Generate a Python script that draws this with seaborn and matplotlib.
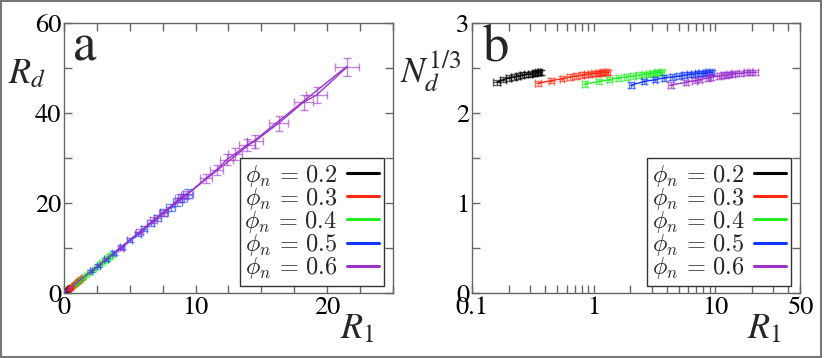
import numpy as np
import matplotlib
matplotlib.use("Agg")
import matplotlib.pyplot as plt
import seaborn as sns
from matplotlib.patches import Rectangle
from matplotlib.lines import Line2D
from matplotlib.ticker import MultipleLocator, LogLocator, FixedLocator, FixedFormatter, NullFormatter

# ---- data ----
phi_labels = ["0.2", "0.3", "0.4", "0.5", "0.6"]
colors = ["#000000", "#ff2a10", "#22ee22", "#1038ff", "#9933cc"]

r1_02 = [0.16, 0.18, 0.20, 0.22, 0.24, 0.26, 0.28, 0.30, 0.32, 0.33, 0.34, 0.35, 0.36, 0.37]
rd_02 = [0.37, 0.43, 0.48, 0.53, 0.58, 0.63, 0.68, 0.73, 0.78, 0.80, 0.83, 0.85, 0.88, 0.90]
n13_02 = [2.34, 2.37, 2.39, 2.40, 2.41, 2.42, 2.43, 2.43, 2.44, 2.44, 2.45, 2.45, 2.45, 2.45]
r1err_02 = [0.010] * 14
rderr_02 = [0.05] * 14

r1_03 = [0.35, 0.45, 0.55, 0.64, 0.72, 0.80, 0.87, 0.94, 1.00, 1.06, 1.12, 1.17, 1.22, 1.27, 1.32]
rd_03 = [0.82, 1.06, 1.31, 1.53, 1.73, 1.93, 2.11, 2.28, 2.44, 2.59, 2.73, 2.86, 2.99, 3.11, 3.23]
n13_03 = [2.33, 2.36, 2.38, 2.40, 2.41, 2.42, 2.43, 2.43, 2.44, 2.44, 2.44, 2.45, 2.45, 2.45, 2.45]
r1err_03 = [0.02, 0.02, 0.02, 0.03, 0.03, 0.03, 0.03, 0.04, 0.04, 0.04, 0.04, 0.05, 0.05, 0.05, 0.05]
rderr_03 = [0.06, 0.07, 0.08, 0.09, 0.10, 0.10, 0.11, 0.12, 0.12, 0.13, 0.13, 0.14, 0.14, 0.15, 0.15]

r1_04 = [0.85, 1.10, 1.35, 1.60, 1.85, 2.10, 2.35, 2.60, 2.80, 3.00, 3.20, 3.35, 3.50, 3.65]
rd_04 = [1.98, 2.58, 3.17, 3.76, 4.35, 4.94, 5.52, 6.11, 6.58, 7.05, 7.52, 7.87, 8.23, 8.58]
n13_04 = [2.32, 2.35, 2.37, 2.39, 2.40, 2.41, 2.42, 2.43, 2.43, 2.44, 2.44, 2.45, 2.45, 2.45]
r1err_04 = [0.04, 0.05, 0.06, 0.07, 0.08, 0.09, 0.10, 0.11, 0.12, 0.12, 0.13, 0.14, 0.14, 0.15]
rderr_04 = [0.10, 0.13, 0.15, 0.18, 0.20, 0.23, 0.25, 0.28, 0.30, 0.31, 0.33, 0.34, 0.36, 0.37]

r1_05 = [2.05, 2.6, 3.2, 3.8, 4.4, 5.0, 5.6, 6.1, 6.6, 7.1, 7.6, 8.1, 8.6, 9.0, 9.4]
rd_05 = [4.8, 6.1, 7.5, 8.9, 10.3, 11.7, 13.1, 14.3, 15.5, 16.7, 17.9, 19.0, 20.2, 21.1, 22.1]
n13_05 = [2.31, 2.35, 2.37, 2.39, 2.40, 2.41, 2.42, 2.43, 2.43, 2.44, 2.44, 2.44, 2.45, 2.45, 2.45]
r1err_05 = [0.09, 0.11, 0.13, 0.15, 0.18, 0.20, 0.22, 0.24, 0.26, 0.28, 0.30, 0.32, 0.34, 0.36, 0.38]
rderr_05 = [0.2, 0.25, 0.3, 0.36, 0.42, 0.47, 0.53, 0.58, 0.63, 0.68, 0.73, 0.78, 0.82, 0.86, 0.9]

r1_06 = [4.3, 5.75, 6.8, 7.5, 8.8, 9.3, 10.8, 11.6, 12.35, 13.0, 13.9, 14.5, 16.3, 18.2, 19.2, 21.5]
rd_06 = [10.0, 13.6, 16.2, 17.7, 21.1, 21.8, 25.5, 27.4, 29.6, 30.9, 32.9, 33.7, 37.7, 42.4, 44.0, 50.2]
n13_06 = [2.31, 2.34, 2.36, 2.37, 2.39, 2.40, 2.41, 2.42, 2.42, 2.43, 2.43, 2.44, 2.44, 2.45, 2.45, 2.45]
r1err_06 = [0.2, 0.25, 0.3, 0.3, 0.35, 0.4, 0.45, 0.5, 0.5, 0.55, 0.6, 0.6, 0.7, 0.75, 0.8, 0.9]
rderr_06 = [0.5, 0.6, 0.7, 0.7, 0.9, 0.9, 1.0, 1.1, 1.2, 1.3, 1.4, 1.4, 1.6, 1.7, 1.8, 2.0]

n13_err = 0.03

r1_all = [r1_02, r1_03, r1_04, r1_05, r1_06]
rd_all = [rd_02, rd_03, rd_04, rd_05, rd_06]
n13_all = [n13_02, n13_03, n13_04, n13_05, n13_06]
r1err_all = [r1err_02, r1err_03, r1err_04, r1err_05, r1err_06]
rderr_all = [rderr_02, rderr_03, rderr_04, rderr_05, rderr_06]

# ---- style ----
sns.set_theme(style="ticks")
plt.rcParams["font.family"] = ["STIXGeneral", "DejaVu Serif"]
plt.rcParams["mathtext.fontset"] = "stix"
plt.rcParams["axes.edgecolor"] = "#666666"
plt.rcParams["xtick.color"] = "#666666"
plt.rcParams["ytick.color"] = "#666666"
plt.rcParams["xtick.labelcolor"] = "black"
plt.rcParams["ytick.labelcolor"] = "black"

fig = plt.figure(figsize=(8.3, 3.58), dpi=100)
ax_a = fig.add_axes([0.0771, 0.1816, 0.3964, 0.7542])
ax_b = fig.add_axes([0.5687, 0.1816, 0.3952, 0.7542])

# outer frame
fig.patches.append(Rectangle((0.001, 0.003), 0.988, 0.994, transform=fig.transFigure,
                             fill=False, edgecolor="#777777", linewidth=1.5))

# ---- panel a ----
for x, y, xe, ye, c in zip(r1_all, rd_all, r1err_all, rderr_all, colors):
    ax_a.errorbar(x, y, xerr=xe, yerr=ye, fmt="none", ecolor=c, elinewidth=1,
                  capsize=3, capthick=1, alpha=0.6, zorder=2)
    sns.lineplot(x=x, y=y, ax=ax_a, color=c, lw=1, sort=False, zorder=3)

x_cat = np.concatenate([np.array(v) for v in r1_all])
y_cat = np.concatenate([np.array(v) for v in rd_all])
slope = np.sum(x_cat * y_cat) / np.sum(x_cat * x_cat)
x_fit = np.array([0.0, x_cat.max()])
ax_a.plot(x_fit, slope * x_fit, color=colors[4], lw=1, zorder=4)

ax_a.set_xlim(0, 25)
ax_a.set_ylim(0, 60)
ax_a.xaxis.set_major_locator(FixedLocator([0, 10, 20]))
ax_a.xaxis.set_minor_locator(MultipleLocator(2.5))
ax_a.yaxis.set_major_locator(MultipleLocator(20))
ax_a.yaxis.set_minor_locator(MultipleLocator(10))

# ---- panel b ----
for x, y, xe, c in zip(r1_all, n13_all, r1err_all, colors):
    ax_b.errorbar(x, y, xerr=xe, yerr=n13_err, fmt="none", ecolor=c, elinewidth=1,
                  capsize=3, capthick=1, alpha=0.6, zorder=2)
    sns.lineplot(x=x, y=y, ax=ax_b, color=c, lw=1, sort=False, zorder=3)

ax_b.set_xscale("log")
ax_b.set_xlim(0.1, 50)
ax_b.set_ylim(0, 3)
ax_b.xaxis.set_major_locator(FixedLocator([0.1, 1, 10, 50]))
ax_b.xaxis.set_major_formatter(FixedFormatter(["0.1", "1", "10", "50"]))
ax_b.xaxis.set_minor_locator(LogLocator(base=10, subs=np.arange(2, 10)))
ax_b.xaxis.set_minor_formatter(NullFormatter())
ax_b.yaxis.set_major_locator(MultipleLocator(1))
ax_b.yaxis.set_minor_locator(MultipleLocator(0.5))

for ax in (ax_a, ax_b):
    ax.tick_params(which="both", direction="in", top=True, right=True,
                   labelsize=19, pad=2)
    ax.tick_params(which="major", length=6, width=1)
    ax.tick_params(which="minor", length=6, width=1)
    for s in ax.spines.values():
        s.set_linewidth(1)
    ax.set_xlabel("")
    ax.set_ylabel("")
    handles = [Line2D([0], [0], color=c, lw=2.2) for c in colors]
    labels = [r"$\phi_n\,=\,%s$" % p for p in phi_labels]
    leg = ax.legend(handles, labels, loc="lower right", bbox_to_anchor=(0.972, 0.026),
                    markerfirst=False, fancybox=False, framealpha=1, edgecolor="#333333",
                    handlelength=1.3, handletextpad=0.4, labelspacing=-0.12,
                    borderpad=0.2, borderaxespad=0, prop={"size": 17.5})
    for t in leg.get_texts():
        t.set_math_fontfamily("cm")
    leg.get_frame().set_linewidth(1)
    leg.set_zorder(10)

# panel letters and axis labels
fig.text(0.088, 0.830, "a", fontsize=38)
fig.text(0.582, 0.830, "b", fontsize=38)
fig.text(0.010, 0.768, r"$R_d$", fontsize=26)
fig.text(0.410, 0.055, r"$R_{\mathit{1}}$", fontsize=26)
fig.text(0.482, 0.770, r"$N_d^{1/3}$", fontsize=26)
fig.text(0.900, 0.055, r"$R_{\mathit{1}}$", fontsize=26)

fig.savefig("out.png", dpi=100)
